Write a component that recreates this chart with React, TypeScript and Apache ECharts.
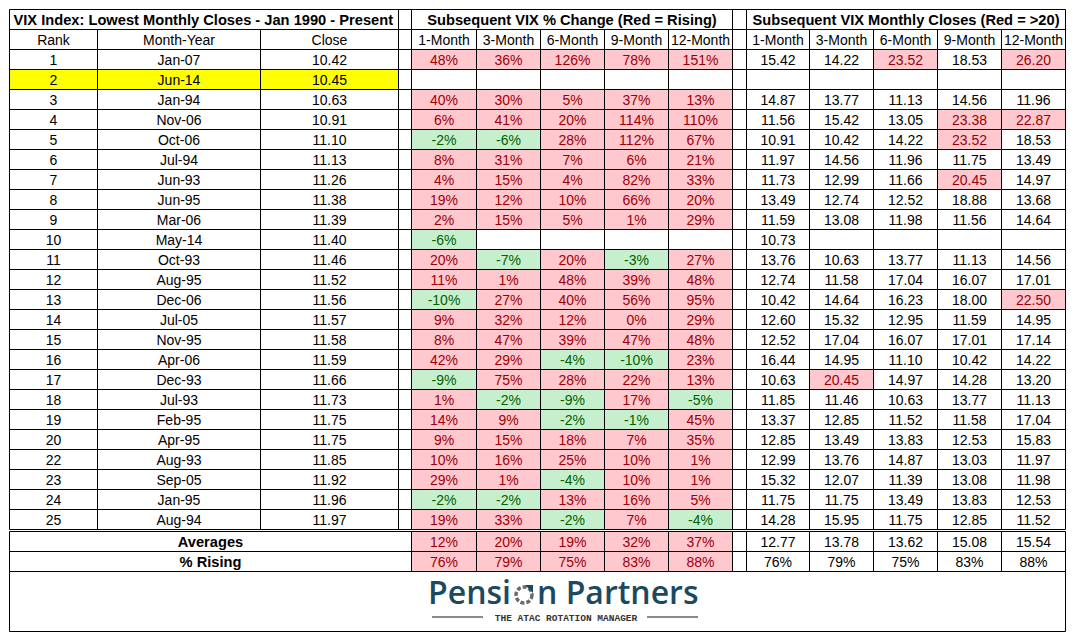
import React, { useEffect, useRef } from "react";
import * as echarts from "echarts";

// ---------------- data ----------------
const title = "VIX Index: Lowest Monthly Closes - Jan 1990 - Present";
const pctTitle = "Subsequent VIX % Change (Red = Rising)";
const closeTitle = "Subsequent VIX Monthly Closes (Red = >20)";
const leftHeaders = ["Rank", "Month-Year", "Close"];
const horizons = ["1-Month", "3-Month", "6-Month", "9-Month", "12-Month"];

const ranks = [1, 2, 3, 4, 5, 6, 7, 8, 9, 10, 11, 12, 13, 14, 15, 16, 17, 18, 19, 20, 22, 23, 24, 25];
const monthYears = [
  "Jan-07", "Jun-14", "Jan-94", "Nov-06", "Oct-06", "Jul-94", "Jun-93", "Jun-95", "Mar-06", "May-14",
  "Oct-93", "Aug-95", "Dec-06", "Jul-05", "Nov-95", "Apr-06", "Dec-93", "Jul-93", "Feb-95", "Apr-95",
  "Aug-93", "Sep-05", "Jan-95", "Aug-94",
];
const closes = [
  10.42, 10.45, 10.63, 10.91, 11.1, 11.13, 11.26, 11.38, 11.39, 11.4, 11.46, 11.52, 11.56, 11.57, 11.58,
  11.59, 11.66, 11.73, 11.75, 11.75, 11.85, 11.92, 11.96, 11.97,
];
const highlightRank = 2;

const pct1M = [48, null, 40, 6, -2, 8, 4, 19, 2, -6, 20, 11, -10, 9, 8, 42, -9, 1, 14, 9, 10, 29, -2, 19];
const pct3M = [36, null, 30, 41, -6, 31, 15, 12, 15, null, -7, 1, 27, 32, 47, 29, 75, -2, 9, 15, 16, 1, -2, 33];
const pct6M = [126, null, 5, 20, 28, 7, 4, 10, 5, null, 20, 48, 40, 12, 39, -4, 28, -9, -2, 18, 25, -4, 13, -2];
const pct9M = [78, null, 37, 114, 112, 6, 82, 66, 1, null, -3, 39, 56, 0, 47, -10, 22, 17, -1, 7, 10, 10, 16, 7];
const pct12M = [151, null, 13, 110, 67, 21, 33, 20, 29, null, 27, 48, 95, 29, 48, 23, 13, -5, 45, 35, 1, 1, 5, -4];

const close1M = [15.42, null, 14.87, 11.56, 10.91, 11.97, 11.73, 13.49, 11.59, 10.73, 13.76, 12.74, 10.42, 12.6, 12.52, 16.44, 10.63, 11.85, 13.37, 12.85, 12.99, 15.32, 11.75, 14.28];
const close3M = [14.22, null, 13.77, 15.42, 10.42, 14.56, 12.99, 12.74, 13.08, null, 10.63, 11.58, 14.64, 15.32, 17.04, 14.95, 20.45, 11.46, 12.85, 13.49, 13.76, 12.07, 11.75, 15.95];
const close6M = [23.52, null, 11.13, 13.05, 14.22, 11.96, 11.66, 12.52, 11.98, null, 13.77, 17.04, 16.23, 12.95, 16.07, 11.1, 14.97, 10.63, 11.52, 13.83, 14.87, 11.39, 13.49, 11.75];
const close9M = [18.53, null, 14.56, 23.38, 23.52, 11.75, 20.45, 18.88, 11.56, null, 11.13, 16.07, 18.0, 11.59, 17.01, 10.42, 14.28, 13.77, 11.58, 12.53, 13.03, 13.08, 13.83, 12.85];
const close12M = [26.2, null, 11.96, 22.87, 18.53, 13.49, 14.97, 13.68, 14.64, null, 14.56, 17.01, 22.5, 14.95, 17.14, 14.22, 13.2, 11.13, 17.04, 15.83, 11.97, 11.98, 12.53, 11.52];

const summaryLabels = ["Averages", "% Rising"];
const avgPct = [12, 20, 19, 32, 37];
const risingPct = [76, 79, 75, 83, 88];
const avgClose = [12.77, 13.78, 13.62, 15.08, 15.54];
const risingClose = [76, 79, 75, 83, 88];

const closeThreshold = 20;

// ---------------- layout ----------------
const COL_EDGES = [9, 97, 260, 398, 411, 476, 540, 604, 668, 732, 746, 809, 873, 937, 1001, 1065];
const TITLE_TOP = 9;
const ROW_H = 20;
const DATA_TOP = 49;
const SUMMARY_TOP = 531;
const LOGO_BOTTOM = 631;

const PINK = "#FFC7CE";
const PINK_TXT = "#9C0006";
const GREEN = "#C6EFCE";
const GREEN_TXT = "#006100";
const YELLOW = "#FFFF00";
const FONT = "'Liberation Sans', Arial, sans-serif";
const LOGO_BLUE = "#1b4a60";

type Cell = {
  x0: number; y0: number; x1: number; y1: number;
  text: string; fill: string; color: string; bold?: boolean; left?: boolean;
};

function buildCells(): Cell[] {
  const cells: Cell[] = [];
  const E = COL_EDGES;
  const add = (c0: number, c1: number, y0: number, y1: number, text: string, fill = "#fff", color = "#000", bold = false, left = false) =>
    cells.push({ x0: E[c0], x1: E[c1], y0, y1, text, fill, color, bold, left });

  // title row
  let y = TITLE_TOP;
  add(0, 3, y, y + ROW_H, title, "#fff", "#000", true, true);
  add(3, 4, y, y + ROW_H, "");
  add(4, 9, y, y + ROW_H, pctTitle, "#fff", "#000", true);
  add(9, 10, y, y + ROW_H, "");
  add(10, 15, y, y + ROW_H, closeTitle, "#fff", "#000", true);
  // header row
  y += ROW_H;
  leftHeaders.forEach((h, i) => add(i, i + 1, y, y + ROW_H, h));
  add(3, 4, y, y + ROW_H, "");
  horizons.forEach((h, i) => add(4 + i, 5 + i, y, y + ROW_H, h));
  add(9, 10, y, y + ROW_H, "");
  horizons.forEach((h, i) => add(10 + i, 11 + i, y, y + ROW_H, h));

  const pcts = [pct1M, pct3M, pct6M, pct9M, pct12M];
  const cls = [close1M, close3M, close6M, close9M, close12M];
  ranks.forEach((r, ri) => {
    const y0 = DATA_TOP + ri * ROW_H;
    const y1 = y0 + ROW_H;
    const hf = r === highlightRank ? YELLOW : "#fff";
    add(0, 1, y0, y1, String(r), hf);
    add(1, 2, y0, y1, monthYears[ri], hf);
    add(2, 3, y0, y1, closes[ri].toFixed(2), hf);
    add(3, 4, y0, y1, "");
    pcts.forEach((arr, k) => {
      const v = arr[ri];
      if (v === null) add(4 + k, 5 + k, y0, y1, "");
      else if (v >= 0) add(4 + k, 5 + k, y0, y1, v + "%", PINK, PINK_TXT);
      else add(4 + k, 5 + k, y0, y1, v + "%", GREEN, GREEN_TXT);
    });
    add(9, 10, y0, y1, "");
    cls.forEach((arr, k) => {
      const v = arr[ri];
      if (v === null) add(10 + k, 11 + k, y0, y1, "");
      else if (v > closeThreshold) add(10 + k, 11 + k, y0, y1, v.toFixed(2), PINK, PINK_TXT);
      else add(10 + k, 11 + k, y0, y1, v.toFixed(2));
    });
  });

  const sumPct = [avgPct, risingPct];
  const sumClose = [avgClose.map((v) => v.toFixed(2)), risingClose.map((v) => v + "%")];
  summaryLabels.forEach((lab, si) => {
    const y0 = SUMMARY_TOP + si * ROW_H;
    const y1 = y0 + ROW_H;
    add(0, 4, y0, y1, lab, "#fff", "#000", true);
    sumPct[si].forEach((v, k) => add(4 + k, 5 + k, y0, y1, v + "%", PINK, PINK_TXT));
    add(9, 10, y0, y1, "");
    sumClose[si].forEach((t, k) => add(10 + k, 11 + k, y0, y1, t));
  });
  // logo box
  const ly = SUMMARY_TOP + 2 * ROW_H;
  add(0, 15, ly, LOGO_BOTTOM, "");
  return cells;
}

const cells = buildCells();

export default function App() {
  const ref = useRef<HTMLDivElement>(null);
  useEffect(() => {
    if (!ref.current) return;
    const chart = echarts.init(ref.current, null, { renderer: "svg" });
    chart.setOption({
      animation: false,
      backgroundColor: "#fff",
      grid: { left: 0, right: 0, top: 0, bottom: 0 },
      xAxis: { type: "value", min: 0, max: 1074, show: false },
      yAxis: { type: "value", min: 0, max: 638, inverse: true, show: false },
      series: [
        {
          type: "custom",
          clip: false,
          silent: true,
          data: cells.map((c) => [c.x0, c.y0, c.x1, c.y1]),
          encode: { x: [0, 2], y: [1, 3] },
          renderItem: (params: any, api: any) => {
            const c = cells[params.dataIndex];
            const p0 = api.coord([c.x0, c.y0]);
            const p1 = api.coord([c.x1, c.y1]);
            const X0 = Math.round(p0[0]) + 0.5;
            const Y0 = Math.round(p0[1]) + 0.5;
            const X1 = Math.round(p1[0]) + 0.5;
            const Y1 = Math.round(p1[1]) + 0.5;
            const children: any[] = [
              {
                type: "rect",
                shape: { x: X0, y: Y0, width: X1 - X0, height: Y1 - Y0 },
                style: { fill: c.fill, stroke: "#000", lineWidth: 1 },
              },
            ];
            if (c.text) {
              children.push({
                type: "text",
                style: {
                  text: c.text,
                  x: c.left ? X0 + 4 : (X0 + X1) / 2,
                  y: (Y0 + Y1) / 2 + 0.5,
                  align: c.left ? "left" : "center",
                  verticalAlign: "middle",
                  fill: c.color,
                  fontFamily: FONT,
                  fontSize: c.bold ? 14.67 : 14,
                  fontWeight: c.bold ? "bold" : "normal",
                },
              });
            }
            return { type: "group", children };
          },
        },
      ],
      graphic: [
        {
          type: "text", z: 100, silent: true,
          style: { text: "Pensi", x: 511, y: 591, align: "right", verticalAlign: "middle", lineHeight: 24, fill: LOGO_BLUE, fontFamily: "'Open Sans', sans-serif", fontSize: 32, fontWeight: 600 },
        },
        {
          type: "circle", z: 100, silent: true,
          shape: { cx: 524, cy: 595, r: 8 },
          style: { fill: "none", stroke: "#6b6b6b", lineWidth: 3.5, lineDash: [4, 2] },
        },
        {
          type: "polygon", z: 101, silent: true,
          shape: { points: [[525, 585], [533, 585], [533, 593]] },
          style: { fill: LOGO_BLUE },
        },
        {
          type: "text", z: 100, silent: true,
          style: { text: "n Partners", x: 537, y: 591, align: "left", verticalAlign: "middle", lineHeight: 24, fill: LOGO_BLUE, fontFamily: "'Open Sans', sans-serif", fontSize: 32, fontWeight: 600 },
        },
        {
          type: "line", z: 100, silent: true,
          shape: { x1: 432, y1: 617, x2: 483, y2: 617 },
          style: { stroke: "#8a8a8a", lineWidth: 2 },
        },
        {
          type: "line", z: 100, silent: true,
          shape: { x1: 647, y1: 617, x2: 698, y2: 617 },
          style: { stroke: "#8a8a8a", lineWidth: 2 },
        },
        {
          type: "text", z: 100, silent: true,
          style: { text: "THE ATAC ROTATION MANAGER", x: 566, y: 618, align: "center", verticalAlign: "middle", fill: "#333", fontFamily: "'Liberation Mono', monospace", fontSize: 9.5, fontWeight: "bold" },
        },
      ],
    });
    return () => chart.dispose();
  }, []);
  return (
    <div
      ref={ref}
      style={{ position: "absolute", left: 0, top: 0, width: 1074, height: 638, background: "#fff" }}
    />
  );
}
